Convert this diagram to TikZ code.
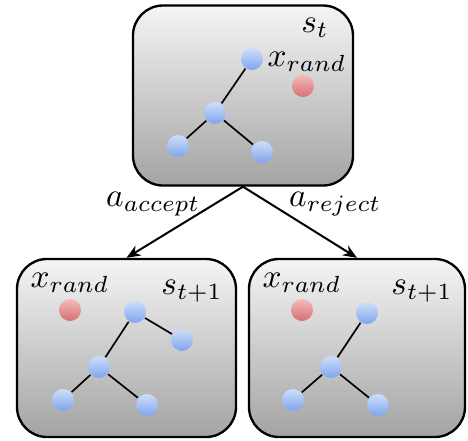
\documentclass[tikz,border=0pt]{standalone}
\usepackage{amsmath}
\usetikzlibrary{arrows,arrows.meta,positioning,shadings}
\definecolor{balltop}{RGB}{205, 222, 250}
\definecolor{ballbot}{RGB}{128, 165, 236}
\definecolor{randtop}{RGB}{244, 186, 186}
\definecolor{randbot}{RGB}{214, 112, 114}

\tikzset{
  statebox/.style={draw, line width=0.7pt, rounded corners=9pt, top color=black!4, bottom color=black!36,
    minimum width=66pt, minimum height=54pt, inner sep=0pt},
  treenode/.style={circle, inner sep=0pt, minimum size=6.6pt, top color=balltop, bottom color=ballbot},
  randnode/.style={circle, inner sep=0pt, minimum size=6.6pt, top color=randtop, bottom color=randbot},
  treeedge/.style={line width=0.5pt},
  actlabel/.style={inner sep=1pt}
}

\begin{document}
\begin{tikzpicture}[x=0.3pt, y=-0.3pt, >={Stealth[length=4.2pt,width=3.4pt]}]
        \useasboundingbox (0,0) rectangle (468,441);

        % Current state s_t (top)
        \node[statebox] (st) at (243,95.5) {};
        \node (stlab) at (315,28) {$s_t$};
        \node (strandlab) at (307,62) {$x_{rand}$};
        \node[randnode] (strand) at (303,86) {};
        \node[treenode] (t1) at (252,59) {};
        \node[treenode] (t2) at (215,113) {};
        \node[treenode] (t3) at (178,146) {};
        \node[treenode] (t4) at (262,152) {};
        \draw[treeedge] (t1) -- (t2);
        \draw[treeedge] (t2) -- (t3);
        \draw[treeedge] (t2) -- (t4);

        % Next state after accepting (bottom left)
        \node[statebox, minimum width=65.7pt, minimum height=53.4pt] (sa) at (126.5,348) {};
        \node (salab) at (192,291) {$s_{t+1}$};
        \node (sarandlab) at (70,283) {$x_{rand}$};
        \node[randnode] (sarand) at (70,310) {};
        \node[treenode] (a1) at (135,312) {};
        \node[treenode] (a2) at (182,340) {};
        \node[treenode] (a3) at (99,367) {};
        \node[treenode] (a4) at (63,400) {};
        \node[treenode] (a5) at (147,405) {};
        \draw[treeedge] (a1) -- (a2);
        \draw[treeedge] (a1) -- (a3);
        \draw[treeedge] (a3) -- (a4);
        \draw[treeedge] (a3) -- (a5);

        % Next state after rejecting (bottom right)
        \node[statebox, minimum width=64.8pt, minimum height=53.4pt] (sr) at (357,348) {};
        \node (srlab) at (422,291) {$s_{t+1}$};
        \node (srrandlab) at (302,283) {$x_{rand}$};
        \node[randnode] (srrand) at (302,310) {};
        \node[treenode] (r1) at (367,313) {};
        \node[treenode] (r2) at (331,367) {};
        \node[treenode] (r3) at (293,400) {};
        \node[treenode] (r4) at (378,405) {};
        \draw[treeedge] (r1) -- (r2);
        \draw[treeedge] (r2) -- (r3);
        \draw[treeedge] (r2) -- (r4);

        % Actions
        \draw[->, line width=0.6pt] (st.south) -- node[actlabel, pos=0.25, left=2.8pt] (acc) {$a_{accept}$} (sa.north);
        \draw[->, line width=0.6pt] (st.south) -- node[actlabel, pos=0.25, right=4pt] (rej) {$a_{reject}$} (sr.north);
\end{tikzpicture}
\end{document}
